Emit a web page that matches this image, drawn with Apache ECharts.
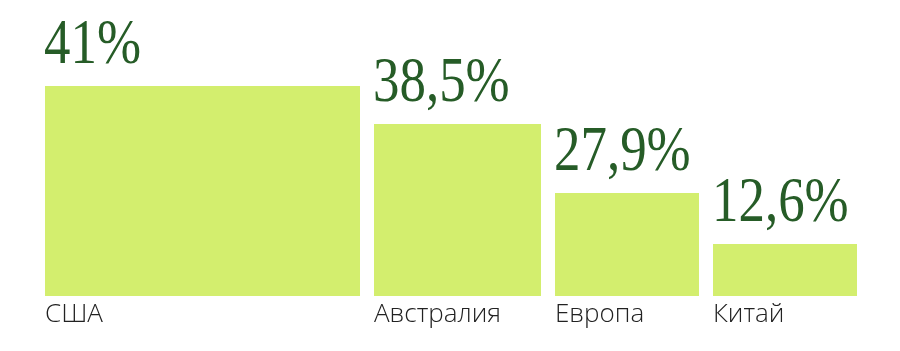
<!DOCTYPE html>
<html>
<head>
<meta charset="utf-8">
<script src="https://cdn.jsdelivr.net/npm/echarts@6/dist/echarts.min.js"></script>
<style>
  html, body { margin: 0; padding: 0; background: #fff; }
  #chart { width: 900px; height: 351px; }
</style>
</head>
<body>
<div id="chart"></div>
<script>
  // регионы, подписи и высоты столбцов
  const regions = ['США', 'Австралия', 'Европа', 'Китай']
  const shareLabels = ['41%', '38,5%', '27,9%', '12,6%']
  const barHeights = [41, 33.6, 20.1, 10.15]
  // ширина каждого столбца вместе с промежутком справа
  const barWidths = [329, 181, 158, 158]

  const gapPx = 14
  const barColor = '#d3ee6e'
  const labelColor = '#265c27'

  let start = 0
  const seriesData = regions.map(function (name, i) {
    const item = [start, start + barWidths[i], barHeights[i], i]
    start += barWidths[i]
    return item
  })

  const chart = echarts.init(document.getElementById('chart'))
  chart.setOption({
    animation: false,
    grid: {
      left: 45,
      right: 29,
      top: 40,
      bottom: 55
    },
    xAxis: {
      type: 'value',
      min: 0,
      max: start,
      show: false
    },
    yAxis: {
      type: 'value',
      min: 0,
      max: 50,
      show: false
    },
    series: [{
      type: 'custom',
      data: seriesData,
      renderItem: function (params, api) {
        const i = api.value(3)
        const p0 = api.coord([api.value(0), api.value(2)])
        const p1 = api.coord([api.value(1), 0])
        const w = p1[0] - p0[0] - gapPx
        return {
          type: 'group',
          children: [
            {
              type: 'rect',
              shape: { x: p0[0], y: p0[1], width: w, height: p1[1] - p0[1] },
              style: { fill: barColor }
            },
            {
              // узкий шрифт с засечками: сжимаем по горизонтали
              type: 'text',
              x: p0[0] - 1,
              y: p0[1] - 8,
              scaleX: 0.84,
              style: {
                text: shareLabels[i],
                x: 0,
                y: 0,
                align: 'left',
                verticalAlign: 'bottom',
                fill: labelColor,
                fontFamily: 'Liberation Serif',
                fontSize: 63
              }
            },
            {
              type: 'text',
              style: {
                text: regions[i],
                x: p0[0],
                y: p1[1] + 6,
                align: 'left',
                verticalAlign: 'top',
                fill: '#222',
                fontFamily: 'Open Sans',
                fontWeight: 300,
                fontSize: 26
              }
            }
          ]
        }
      }
    }]
  })
</script>
</body>
</html>
